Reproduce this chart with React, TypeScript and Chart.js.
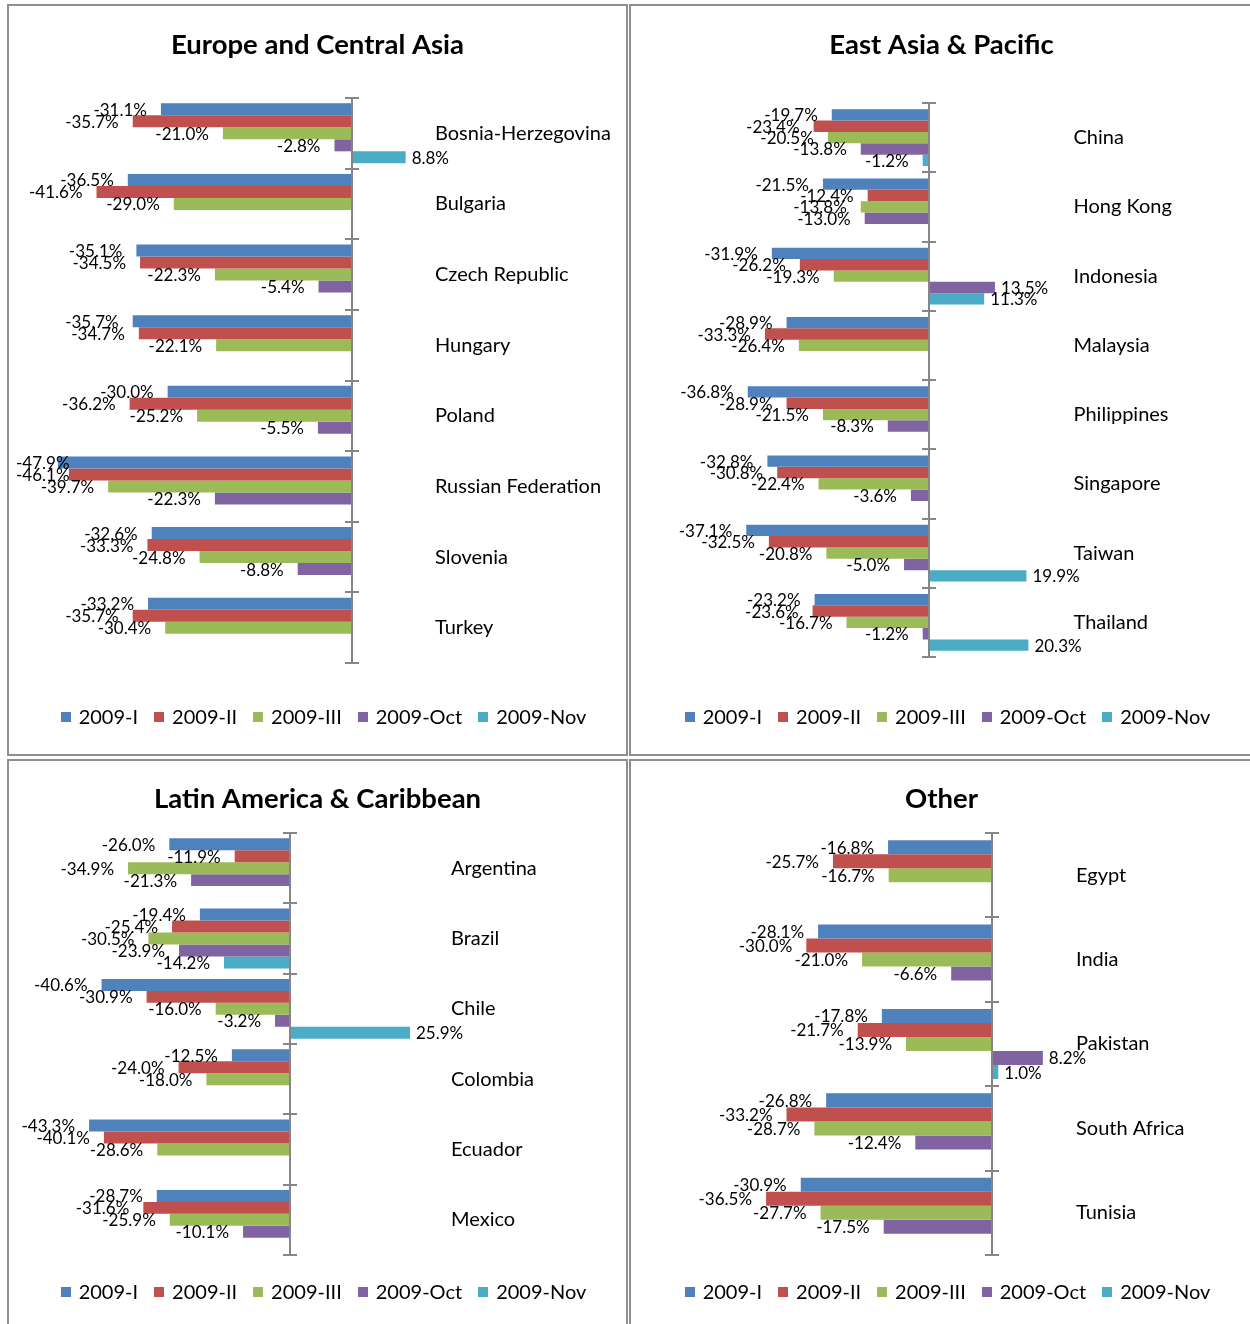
import { useEffect, useRef } from "react";
import { Chart, registerables } from "chart.js";

Chart.register(...registerables);

// Series shared by all four regional panels
const seriesNames = ["2009-I", "2009-II", "2009-III", "2009-Oct", "2009-Nov"];
const seriesColors = ["#4F81BD", "#C0504D", "#9BBB59", "#8064A2", "#4BACC6"];

// Europe and Central Asia
const europeCountries = ["Bosnia-Herzegovina", "Bulgaria", "Czech Republic", "Hungary", "Poland", "Russian Federation", "Slovenia", "Turkey"];
const europeQ1 = [-31.1, -36.5, -35.1, -35.7, -30.0, -47.9, -32.6, -33.2];
const europeQ2 = [-35.7, -41.6, -34.5, -34.7, -36.2, -46.1, -33.3, -35.7];
const europeQ3 = [-21.0, -29.0, -22.3, -22.1, -25.2, -39.7, -24.8, -30.4];
const europeOct = [-2.8, null, -5.4, null, -5.5, -22.3, -8.8, null];
const europeNov = [8.8, null, null, null, null, null, null, null];

// East Asia & Pacific
const eastAsiaCountries = ["China", "Hong Kong", "Indonesia", "Malaysia", "Philippines", "Singapore", "Taiwan", "Thailand"];
const eastAsiaQ1 = [-19.7, -21.5, -31.9, -28.9, -36.8, -32.8, -37.1, -23.2];
const eastAsiaQ2 = [-23.4, -12.4, -26.2, -33.3, -28.9, -30.8, -32.5, -23.6];
const eastAsiaQ3 = [-20.5, -13.8, -19.3, -26.4, -21.5, -22.4, -20.8, -16.7];
const eastAsiaOct = [-13.8, -13.0, 13.5, null, -8.3, -3.6, -5.0, -1.2];
const eastAsiaNov = [-1.2, null, 11.3, null, null, null, 19.9, 20.3];

// Latin America & Caribbean
const latinCountries = ["Argentina", "Brazil", "Chile", "Colombia", "Ecuador", "Mexico"];
const latinQ1 = [-26.0, -19.4, -40.6, -12.5, -43.3, -28.7];
const latinQ2 = [-11.9, -25.4, -30.9, -24.0, -40.1, -31.6];
const latinQ3 = [-34.9, -30.5, -16.0, -18.0, -28.6, -25.9];
const latinOct = [-21.3, -23.9, -3.2, null, null, -10.1];
const latinNov = [null, -14.2, 25.9, null, null, null];

// Other
const otherCountries = ["Egypt", "India", "Pakistan", "South Africa", "Tunisia"];
const otherQ1 = [-16.8, -28.1, -17.8, -26.8, -30.9];
const otherQ2 = [-25.7, -30.0, -21.7, -33.2, -36.5];
const otherQ3 = [-16.7, -21.0, -13.9, -28.7, -27.7];
const otherOct = [null, -6.6, 8.2, -12.4, -17.5];
const otherNov = [null, null, 1.0, null, null];

type Val = number | null;

interface PanelSpec {
  title: string;
  categories: string[];
  series: Val[][];
  min: number;
  max: number;
  catPct: number;
  box: { left: number; top: number; width: number; height: number };
  plotLeft: number;
  plotRight: number;
  plotTop: number;
  plotBottom: number;
  titleY: number;
  legendY: number;
}

const panels: PanelSpec[] = [
  {
    title: "Europe and Central Asia",
    categories: europeCountries,
    series: [europeQ1, europeQ2, europeQ3, europeOct, europeNov],
    min: -50, max: 10, catPct: 0.85,
    box: { left: 7, top: 4, width: 621, height: 752 },
    plotLeft: 36, plotRight: 404, plotTop: 92, plotBottom: 657, titleY: 39.5, legendY: 711,
  },
  {
    title: "East Asia & Pacific",
    categories: eastAsiaCountries,
    series: [eastAsiaQ1, eastAsiaQ2, eastAsiaQ3, eastAsiaOct, eastAsiaNov],
    min: -40, max: 25, catPct: 0.82,
    box: { left: 629, top: 4, width: 625, height: 752 },
    plotLeft: 101, plotRight: 420.5, plotTop: 97, plotBottom: 651, titleY: 39.5, legendY: 711,
  },
  {
    title: "Latin America & Caribbean",
    categories: latinCountries,
    series: [latinQ1, latinQ2, latinQ3, latinOct, latinNov],
    min: -50, max: 30, catPct: 0.85,
    box: { left: 7, top: 759, width: 621, height: 580 },
    plotLeft: 49, plotRight: 420, plotTop: 72, plotBottom: 494, titleY: 38.5, legendY: 531,
  },
  {
    title: "Other",
    categories: otherCountries,
    series: [otherQ1, otherQ2, otherQ3, otherOct, otherNov],
    min: -40, max: 10, catPct: 0.83,
    box: { left: 629, top: 759, width: 625, height: 580 },
    plotLeft: 113.4, plotRight: 423, plotTop: 72, plotBottom: 494, titleY: 38.5, legendY: 531,
  },
];

const FONT = "Lato";
const TITLE_SIZE = 27.5;
const TITLE_LH = 1.2;
const LEGEND_SIZE = 20;
const LEGEND_BOX = 10;
const LEGEND_TEXT_GAP = 8;
const LEGEND_ITEM_GAP = 16;
const CAT_SIZE = 20;
const VALUE_SIZE = 17;

// Vertical category axis drawn at zero, with tick marks crossing it at group boundaries
const zeroAxisPlugin = {
  id: "zeroAxis",
  afterDatasetsDraw(chart: any) {
    const { ctx, chartArea, scales } = chart;
    const x0 = Math.round(scales.x.getPixelForValue(0));
    const n = chart.data.labels.length;
    ctx.save();
    ctx.strokeStyle = "#868686";
    ctx.lineWidth = 2;
    ctx.beginPath();
    ctx.moveTo(x0, chartArea.top);
    ctx.lineTo(x0, chartArea.bottom);
    for (let i = 0; i <= n; i++) {
      const y = Math.round(scales.y.getPixelForValue(i - 0.5));
      ctx.moveTo(x0 - 7, y);
      ctx.lineTo(x0 + 7, y);
    }
    ctx.stroke();
    ctx.restore();
  },
};

// Percentage labels at the outer end of every bar
const valueLabelPlugin = {
  id: "valueLabels",
  afterDatasetsDraw(chart: any) {
    const { ctx } = chart;
    ctx.save();
    ctx.font = `${VALUE_SIZE}px ${FONT}`;
    ctx.fillStyle = "#000";
    ctx.textBaseline = "middle";
    ctx.textAlign = "left";
    chart.data.datasets.forEach((ds: any, di: number) => {
      const meta = chart.getDatasetMeta(di);
      meta.data.forEach((bar: any, i: number) => {
        const v = ds.data[i];
        if (v === null || v === undefined) return;
        const txt = `${v.toFixed(1)}%`;
        const w = ctx.measureText(txt).width;
        let left = v < 0 ? bar.x - 14 - w : bar.x + 6;
        left = Math.max(left, 7);
        ctx.fillText(txt, left, bar.y + 1);
      });
    });
    ctx.restore();
  },
};

// Single-row series key under the plot: small square swatch followed by the series name
const seriesKeyPlugin = {
  id: "seriesKey",
  afterDraw(chart: any, _args: any, opts: any) {
    const { ctx } = chart;
    const datasets = chart.data.datasets;
    ctx.save();
    ctx.font = `${LEGEND_SIZE}px ${FONT}`;
    ctx.textBaseline = "middle";
    ctx.textAlign = "left";
    const widths = datasets.map((ds: any) => ctx.measureText(ds.label).width);
    const total =
      widths.reduce((a: number, w: number) => a + LEGEND_BOX + LEGEND_TEXT_GAP + w, 0) +
      LEGEND_ITEM_GAP * (datasets.length - 1);
    let x = opts.centerX - total / 2;
    const y = opts.y;
    datasets.forEach((ds: any, i: number) => {
      ctx.fillStyle = ds.backgroundColor;
      ctx.fillRect(Math.round(x), Math.round(y - LEGEND_BOX / 2), LEGEND_BOX, LEGEND_BOX);
      x += LEGEND_BOX + LEGEND_TEXT_GAP;
      ctx.fillStyle = "#000";
      ctx.fillText(ds.label, x, y + 1);
      x += widths[i] + LEGEND_ITEM_GAP;
    });
    ctx.restore();
  },
};

function RegionChart({ spec }: { spec: PanelSpec }) {
  const ref = useRef<HTMLCanvasElement | null>(null);
  const W = spec.box.width - 4;
  const H = spec.box.height - 4;

  useEffect(() => {
    if (!ref.current) return;
    const titleHalf = (TITLE_SIZE * TITLE_LH) / 2;

    const chart = new Chart(ref.current, {
      type: "bar",
      data: {
        labels: spec.categories,
        datasets: spec.series.map((data, k) => ({
          label: seriesNames[k],
          data,
          backgroundColor: seriesColors[k],
          borderWidth: 0,
          categoryPercentage: spec.catPct,
          barPercentage: 1,
          xAxisID: "x",
          yAxisID: "y",
        })),
      },
      options: {
        indexAxis: "y",
        animation: false,
        responsive: false,
        maintainAspectRatio: false,
        layout: { padding: 0 },
        plugins: {
          title: {
            display: true,
            text: spec.title,
            color: "#000",
            font: { family: FONT, size: TITLE_SIZE, weight: "bold", lineHeight: TITLE_LH },
            padding: { top: spec.titleY - titleHalf, bottom: spec.plotTop - spec.titleY - titleHalf },
          },
          legend: { display: false },
          tooltip: { enabled: false },
          seriesKey: { centerX: W / 2 + 6, y: spec.legendY },
        },
        scales: {
          x: {
            type: "linear",
            position: "bottom",
            min: spec.min,
            max: spec.max,
            ticks: { display: false },
            grid: { display: false, drawTicks: false },
            border: { display: false },
            afterFit: (s: any) => {
              s.height = H - spec.plotBottom;
            },
          },
          y: {
            type: "category",
            position: "right",
            grid: { display: false, drawTicks: false },
            border: { display: false },
            ticks: { padding: 22, color: "#000", autoSkip: false, font: { family: FONT, size: CAT_SIZE } },
            afterFit: (s: any) => {
              s.width = W - spec.plotRight;
            },
          },
          yl: {
            type: "linear",
            axis: "y",
            position: "left",
            ticks: { display: false },
            grid: { display: false, drawTicks: false },
            border: { display: false },
            afterFit: (s: any) => {
              s.width = spec.plotLeft;
            },
          },
        },
      } as any,
      plugins: [zeroAxisPlugin, valueLabelPlugin, seriesKeyPlugin],
    });
    return () => chart.destroy();
  }, [spec, W, H]);

  return (
    <div
      style={{
        position: "absolute",
        left: spec.box.left,
        top: spec.box.top,
        width: spec.box.width,
        height: spec.box.height,
        boxSizing: "border-box",
        border: "2px solid #8f8f8f",
        background: "#fff",
      }}
    >
      <canvas ref={ref} width={W} height={H} style={{ display: "block", width: W, height: H }} />
    </div>
  );
}

export default function App() {
  return (
    <div
      style={{
        position: "absolute",
        left: 0,
        top: 0,
        width: 1250,
        height: 1324,
        overflow: "hidden",
        background: "#fff",
      }}
    >
      {panels.map((p) => (
        <RegionChart key={p.title} spec={p} />
      ))}
    </div>
  );
}
